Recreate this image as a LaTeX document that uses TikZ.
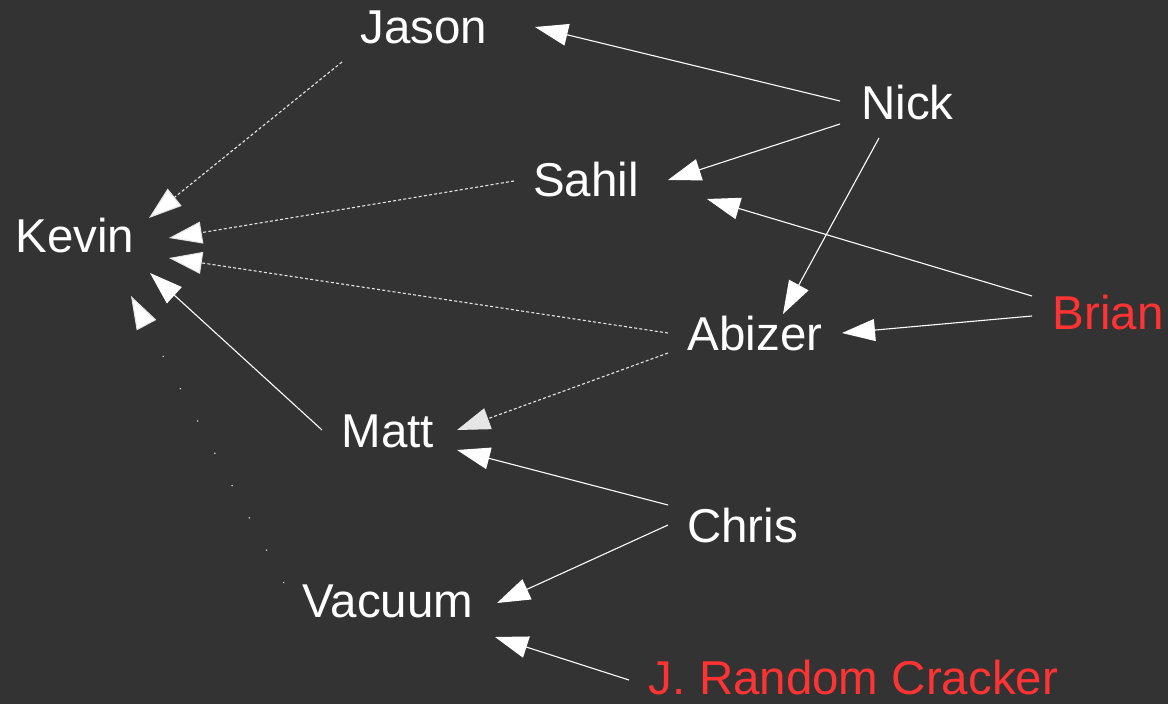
\documentclass[tikz,border=0pt]{standalone}
\usepackage{fontspec}
\setmainfont{Liberation Sans}
\usetikzlibrary{arrows.meta,calc}
\definecolor{bgc}{HTML}{333333}
\definecolor{redc}{HTML}{FF3333}
\definecolor{dashc}{HTML}{E6E6E6}
\begin{document}
\begin{tikzpicture}[x=1pt,y=-1pt,
  person/.style={anchor=base,inner sep=0pt,text=white,font=\fontsize{47.5}{56}\selectfont},
  outsider/.style={person,text=redc},
  edge/.style={draw=white,line width=1.1pt,-{Triangle[length=33pt,width=22pt]}},
  dashedge/.style={edge,draw=dashc,dash pattern=on 3pt off 2.2pt},
  dotedge/.style={edge,draw=dashc,dash pattern=on 1.2pt off 35.4pt}]
\useasboundingbox (0,0) rectangle (1168,704);
\fill[bgc] (0,0) rectangle (1168,704);
\node[person] (jason) at (424,43) {Jason};
\node[person] (nick) at (907.5,119) {Nick};
\node[person] (sahil) at (586,196) {Sahil};
\node[person] (kevin) at (75,252) {Kevin};
\node[person] (abizer) at (755,350) {Abizer};
\node[outsider] (brian) at (1108,329) {Brian};
\node[person] (matt) at (388,447) {Matt};
\node[person] (chris) at (742.5,542) {Chris};
\node[person] (vacuum) at (388,617) {Vacuum};
\node[outsider] (jrc) at (853.5,694) {J. Random Cracker};
% Nick
\draw[edge] ($(nick.base)+(-67.5,-18)$) -- ($(jason.base)+(111,-16)$);
\draw[edge] ($(nick.base)+(-67.5,5)$) -- ($(sahil.base)+(82,-16)$);
\draw[edge] ($(nick.base)+(-28.5,19)$) -- ($(abizer.base)+(28,-36)$);
% Brian
\draw[edge] ($(brian.base)+(-76,-33)$) -- ($(sahil.base)+(121,3)$);
\draw[edge] ($(brian.base)+(-76,-13)$) -- ($(abizer.base)+(87,-17)$);
% to Kevin
\draw[dashedge,-{Triangle[length=33pt,width=22pt,fill=white]}] ($(jason.base)+(-82,19)$) -- ($(kevin.base)+(74,-34)$);
\draw[dashedge,-{Triangle[length=33pt,width=22pt,fill=white]}] ($(sahil.base)+(-72,-15)$) -- ($(kevin.base)+(94,-14)$);
\draw[dashedge,-{Triangle[length=33pt,width=22pt,fill=white]}] ($(abizer.base)+(-87,-17)$) -- ($(kevin.base)+(94,6)$);
\draw[edge] ($(matt.base)+(-66,-17)$) -- ($(kevin.base)+(75,21)$);
\draw[dotedge,-{Triangle[length=33pt,width=22pt,fill=white]}] ($(vacuum.base)+(-104,-34)$) -- ($(kevin.base)+(56,44)$);
% Abizer to Matt
\draw[dashedge] ($(abizer.base)+(-87,3)$) -- ($(matt.base)+(69,-17)$);
% Chris
\draw[edge] ($(chris.base)+(-74.5,-37)$) -- ($(matt.base)+(69,3)$);
\draw[edge] ($(chris.base)+(-74.5,-17)$) -- ($(vacuum.base)+(109,-14)$);
% JRC
\draw[edge] ($(jrc.base)+(-224.5,-14)$) -- ($(vacuum.base)+(107,20)$);
\end{tikzpicture}
\end{document}
